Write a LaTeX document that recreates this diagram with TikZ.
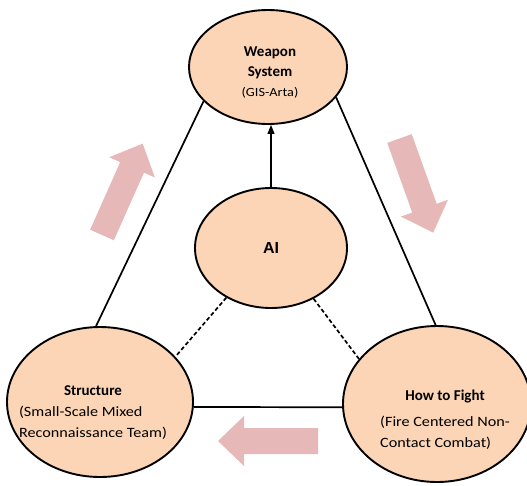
\documentclass[tikz,border=0pt]{standalone}
\usepackage{fontspec}
\setmainfont{Carlito}
\newfontfamily\labelsans{Liberation Sans}
\newfontfamily\notefont{Carlito}[FakeStretch=1.14]
\usetikzlibrary{arrows.meta,shapes.geometric}
\definecolor{peach}{HTML}{FBD5B5}
\definecolor{rosy}{HTML}{E6B9B8}
% title line and note line inside a tabular cell
\newcommand\headtext[1]{{\bfseries\fontsize{15}{20}\selectfont #1}}
\newcommand\notetext[1]{{\notefont\fontsize{14.2}{20}\selectfont #1}}
\begin{document}
\begin{tikzpicture}[x=1pt,y=1pt,
  blob/.style={ellipse, draw=black, line width=1.9pt, fill=peach, inner sep=0pt},
  tie/.style={line width=1.7pt, draw=black},
  aux/.style={line width=1.7pt, draw=black, dash pattern=on 4pt off 2.5pt},
  caption/.style={inner sep=0pt, font=\fontsize{14}{21}\selectfont},
  pics/blockarrow/.style={code={
    \fill[rosy] (0,-13) -- (74,-13) -- (74,-25) -- (100,0) -- (74,25) -- (74,13) -- (0,13) -- cycle;}}
]
\useasboundingbox (0,0) rectangle (527,-485);

% cycle arrows
\pic[rotate=66] at (102,-235) {blockarrow};
\pic[rotate=-70.3] at (399.5,-138.5) {blockarrow};
\pic[rotate=180] at (318,-441) {blockarrow};

% the four elements
\node[blob, minimum width=158pt, minimum height=114pt] (W) at (268,-67) {};
\node[blob, minimum width=186pt, minimum height=150pt] (S) at (100,-402) {};
\node[blob, minimum width=188pt, minimum height=156pt] (H) at (437,-404) {};
\node[blob, minimum width=152pt, minimum height=120pt] (AI) at (271,-248)
  {\labelsans\bfseries\fontsize{16}{19}\selectfont AI};

% labels
\node[caption, font=\fontsize{14}{20}\selectfont] (Wt) at (270,-72)
  {\begin{tabular}{@{}c@{}}\headtext{Weapon}\\\headtext{System}\\
   {\notefont\fontsize{12.5}{20}\selectfont (GIS-Arta)}\end{tabular}};
\node[caption] (St) at (93,-412)
  {\begin{tabular}{@{}l@{}}\multicolumn{1}{@{}c@{}}{\headtext{Structure}}\\
   \notetext{(Small-Scale Mixed}\\\notetext{Reconnaissance Team)}\end{tabular}};
\node[caption] (Ht) at (445,-419.5)
  {\begin{tabular}{@{}l@{}}\multicolumn{1}{@{}c@{}}{\headtext{How to Fight}}\\[5pt]
   \notetext{(Fire Centered Non-}\\\notetext{Contact Combat)}\end{tabular}};

% connectors
\draw[tie] (W.208) -- (S.93);
\draw[tie] (W.336) -- (H.91);
\draw[tie] (S.357) -- (H.182);
\draw[aux] (AI.228) -- (S.31);
\draw[aux] (AI.310) -- (H.150);
\draw[line width=1.1pt, -{Triangle[length=9pt,width=7pt]}] (AI.north) -- (AI.north |- W.south);
\end{tikzpicture}
\end{document}
